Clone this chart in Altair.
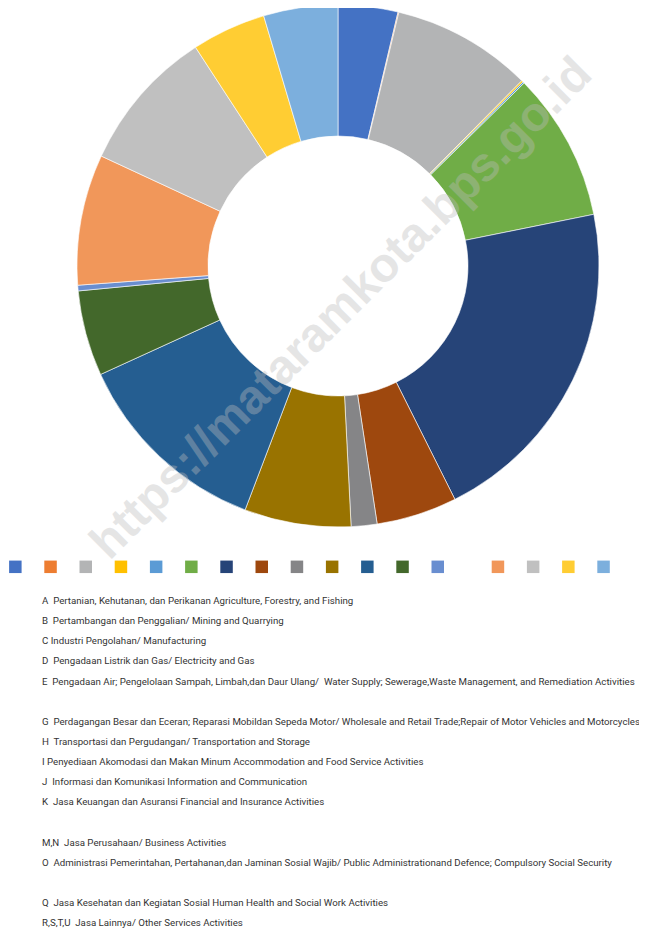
import altair as alt
import pandas as pd

codes = ["A", "B", "C", "D", "E", "F", "G", "H", "I", "J", "K", "L",
         "M,N", "O", "P", "Q", "R,S,T,U"]
shares = [3.7, 0.05, 8.7, 0.1, 0.1, 9.2, 20.8, 5.0, 1.6, 6.6, 12.4, 5.3,
          0.35, 8.1, 8.9, 4.6, 4.6]
colors = ["#4472C4", "#ED7D31", "#B3B4B5", "#FFC000", "#5B9BD5", "#70AD47",
          "#264478", "#9E480E", "#858587", "#997300", "#255E91", "#43682B",
          "#698ED0", "#F1975A", "#C0C0C0", "#FFCD33", "#7CAFDD"]

NB = "\u00a0"
lines = [
    "A" + NB + " Pertanian, Kehutanan, dan Perikanan Agriculture, Forestry, and Fishing",
    "B" + NB + " Pertambangan dan Penggalian/ Mining and Quarrying",
    "C Industri Pengolahan/ Manufacturing",
    "D" + NB + " Pengadaan Listrik dan Gas/ Electricity and Gas",
    "E" + NB + " Pengadaan Air; Pengelolaan Sampah, Limbah,dan Daur Ulang/" + NB + " Water Supply; Sewerage,Waste Management, and Remediation Activities",
    "",
    "G" + NB + " Perdagangan Besar dan Eceran; Reparasi Mobildan Sepeda Motor/ Wholesale and Retail Trade;Repair of Motor Vehicles and Motorcycles",
    "H" + NB + " Transportasi dan Pergudangan/ Transportation and Storage",
    "I Penyediaan Akomodasi dan Makan Minum Accommodation and Food Service Activities",
    "J" + NB + " Informasi dan Komunikasi Information and Communication",
    "K" + NB + " Jasa Keuangan dan Asuransi Financial and Insurance Activities",
    "",
    "M,N" + NB + " Jasa Perusahaan/ Business Activities",
    "O" + NB + " Administrasi Pemerintahan, Pertahanan,dan Jaminan Sosial Wajib/ Public Administrationand Defence; Compulsory Social Security",
    "",
    "Q" + NB + " Jasa Kesehatan dan Kegiatan Sosial Human Health and Social Work Activities",
    "R,S,T,U" + NB + " Jasa Lainnya/ Other Services Activities",
]
watermark = "https://mataramkota.bps.go.id"

FONT = "Roboto"

slices = pd.DataFrame({"code": codes, "share": shares, "idx": list(range(len(codes)))})
text_df = pd.DataFrame({"line": lines, "row": list(range(len(lines)))})
wm_df = pd.DataFrame({"t": [watermark]})

donut = alt.Chart(slices).mark_arc(
    innerRadius=130, outerRadius=261, stroke="white", strokeWidth=0.6
).encode(
    theta=alt.Theta("share:Q", stack=True),
    order=alt.Order("idx:Q"),
    color=alt.Color(
        "code:N",
        scale=alt.Scale(domain=codes, range=colors),
        sort=codes,
        legend=alt.Legend(
            title=None, orient="none", legendX=0, legendY=551,
            direction="horizontal", columns=17, gridAlign="each",
            symbolType="square", symbolSize=156, symbolStrokeWidth=0,
            labelOffset=0, labelFontSize=14.7, labelFont="Liberation Sans",
            labelColor="white", columnPadding=20.2,
            labelExpr="datum.label == 'M,N' ? 'MM' : ''",
        ),
    ),
    x=alt.value(330),
    y=alt.value(258),
)

texts = alt.Chart(text_df).mark_text(
    align="left", baseline="middle", font=FONT, fontSize=9.7, color="#333333"
).encode(
    x=alt.value(34),
    y=alt.Y("row:Q", scale=alt.Scale(domain=[0, 16], range=[593, 915]), axis=None),
    text="line:N",
)

wm = alt.Chart(wm_df).mark_text(
    angle=315, fontSize=48, fontWeight="bold", font="Liberation Sans",
    color="#bcbcbc", opacity=0.38, align="center", baseline="middle"
).encode(
    x=alt.value(334),
    y=alt.value(301),
    text="t:N",
)

chart = alt.layer(donut, texts, wm).resolve_scale(y="independent").properties(
    width=631, height=920, padding=0, autosize=alt.AutoSizeParams(type="none")
).configure_view(stroke=None)

chart.save("out.html", embed_options={"renderer": "svg", "actions": False})
